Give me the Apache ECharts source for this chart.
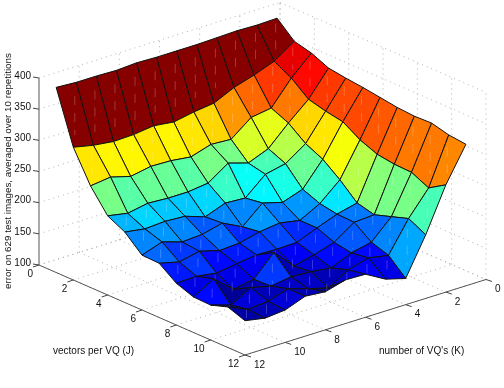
<!DOCTYPE html>
<html>
<head>
    <meta charset="UTF-8">
    <title>error surface</title>
    <script src="https://cdn.jsdelivr.net/npm/echarts/dist/echarts.min.js"></script>
    <style>
        html, body { margin: 0; padding: 0; background: #fff; }
        #chart { width: 504px; height: 388px; }
    </style>
</head>
<body>
<div id="chart"></div>
<script>
    // K values for each column of the rows below
    const kValues = [12, 11, 10, 9, 8, 7, 6, 5, 4, 3, 2, 1];
    const jValues = [1, 2, 3, 4, 5, 6, 7, 8, 9, 10, 11, 12];

    // error, one row per J
    const errJ1 = [397, 395, 395, 394, 396, 395, 395, 395, 396, 397, 396, 397];
    const errJ2 = [313, 306, 302, 303, 307, 303, 309, 313, 328, 338, 350, 372];
    const errJ3 = [263, 267, 258, 264, 263, 259, 269, 267, 292, 297, 335, 365];
    const errJ4 = [227, 221, 227, 225, 225, 229, 251, 241, 254, 285, 313, 353];
    const errJ5 = [213, 208, 210, 208, 197, 209, 207, 235, 242, 264, 306, 349];
    const errJ6 = [188, 199, 189, 191, 199, 183, 211, 202, 213, 251, 301, 346];
    const errJ7 = [187, 179, 186, 177, 179, 187, 191, 185, 202, 230, 284, 342];
    const errJ8 = [167, 168, 163, 168, 172, 171, 172, 185, 197, 205, 273, 338];
    const errJ9 = [157, 176, 149, 155, 188, 156, 164, 174, 196, 198, 269, 336];
    const errJ10 = [156, 146, 164, 156, 161, 159, 155, 169, 176, 207, 268, 337];
    const errJ11 = [165, 151, 154, 164, 154, 145, 164, 173, 167, 216, 255, 330];
    const errJ12 = [155, 149, 152, 164, 161, 170, 169, 151, 142, 202, 272, 327];
    const errorRows = [errJ1, errJ2, errJ3, errJ4, errJ5, errJ6, errJ7, errJ8, errJ9, errJ10, errJ11, errJ12];

    const jTicks = [0, 2, 4, 6, 8, 10, 12];
    const kTicks = [0, 2, 4, 6, 8, 10, 12];
    const zTicks = [100, 150, 200, 250, 300, 350, 400];

    const xTitle = "vectors per VQ (J)";
    const yTitle = "number of VQ's (K)";
    const zTitle = "error on 629 test images, averaged over 10 repetitions";

    // orthographic view of the 3d box, in units of the hidden flat axes
    function project(j, k, z) {
        return [
            39 + 206 * j / 12 + 241 * (12 - k) / 12,
            265 + 90 * j / 12 - 75.5 * (12 - k) / 12 - (z - 100) * 187 / 300
        ];
    }

    const zAll = errorRows.flat();
    const zMin = Math.min(...zAll);
    const zMax = Math.max(...zAll);

    // matlab jet, 64 levels
    function jet(z) {
        const level = Math.min(63, Math.floor((z - zMin) / (zMax - zMin) * 64));
        const t = (level + 0.5) / 64;
        const ch = v => Math.round(255 * Math.max(0, Math.min(1, v)));
        return `rgb(${ch(Math.min(4 * t - 1.5, -4 * t + 4.5))},${ch(Math.min(4 * t - 0.5, -4 * t + 3.5))},${ch(Math.min(4 * t + 0.5, -4 * t + 2.5))})`;
    }

    // dotted lines on the two back walls and the floor
    const gridLines = [];
    jTicks.forEach(j => {
        gridLines.push([j, 12, 100, j, 0, 100]);
        gridLines.push([j, 0, 100, j, 0, 400]);
    });
    kTicks.forEach(k => {
        gridLines.push([0, k, 100, 12, k, 100]);
        if (k !== 12) gridLines.push([0, k, 100, 0, k, 400]);
    });
    zTicks.forEach(z => {
        gridLines.push([0, 12, z, 0, 0, z]);
        gridLines.push([0, 0, z, 12, 0, z]);
    });

    // faces back to front so nearer ones cover farther ones
    const cells = [];
    for (let r = 0; r < jValues.length - 1; r++) {
        for (let c = kValues.length - 2; c >= 0; c--) {
            cells.push([r, c]);
        }
    }

    const font = '10px "Liberation Sans", Arial, sans-serif';

    function renderGridLine(params, api) {
        const a = api.coord(project(api.value(0), api.value(1), api.value(2)));
        const b = api.coord(project(api.value(3), api.value(4), api.value(5)));
        return {
            type: 'line',
            shape: { x1: a[0], y1: a[1], x2: b[0], y2: b[1] },
            style: { stroke: '#b0b0b0', lineWidth: 1, lineDash: [1, 4] },
            silent: true
        };
    }

    function renderCell(params, api) {
        const r = api.value(0);
        const c = api.value(1);
        const corners = [[r, c], [r, c + 1], [r + 1, c + 1], [r + 1, c]];
        const pts = corners.map(p => api.coord(project(jValues[p[0]], kValues[p[1]], errorRows[p[0]][p[1]])));
        const xs = pts.map(p => p[0]);
        const ys = pts.map(p => p[1]);
        const cx = (xs[0] + xs[1] + xs[2] + xs[3]) / 4;
        const cy = (ys[0] + ys[1] + ys[2] + ys[3]) / 4;
        const half = (Math.max(...ys) - Math.min(...ys)) * 0.3;
        return {
            type: 'group',
            silent: true,
            children: [
                {
                    type: 'polygon',
                    shape: { points: pts },
                    // flat shading: colour comes from the lowest J, lowest K corner
                    style: { fill: jet(errorRows[r][c + 1]), stroke: '#111', lineWidth: 1, lineJoin: 'round' }
                },
                {
                    type: 'line',
                    shape: { x1: cx, y1: cy - half, x2: cx, y2: cy + half },
                    style: { stroke: 'rgba(255,255,255,0.22)', lineWidth: 1, lineDash: [9, 8] }
                }
            ]
        };
    }

    function tickGroup(api, from, dx, dy, label, lx, ly, align) {
        const a = api.coord(from);
        return {
            type: 'group',
            silent: true,
            children: [
                {
                    type: 'line',
                    shape: { x1: a[0], y1: a[1], x2: a[0] + dx, y2: a[1] + dy },
                    style: { stroke: '#444', lineWidth: 1 }
                },
                {
                    type: 'text',
                    style: {
                        text: label, x: a[0] + lx, y: a[1] + ly, align: align,
                        verticalAlign: 'middle', fill: '#111', font: font
                    }
                }
            ]
        };
    }

    const option = {
        animation: false,
        grid: { left: 0, right: 0, top: 0, bottom: 0 },
        xAxis: { type: 'value', min: 0, max: 504, show: false },
        yAxis: { type: 'value', min: 0, max: 388, inverse: true, show: false },
        tooltip: { show: false },
        graphic: [
            { type: 'text', silent: true, left: 53, top: 346, style: { text: xTitle, font: font, fill: '#111' } },
            { type: 'text', silent: true, left: 379, top: 346, style: { text: yTitle, font: font, fill: '#111' } },
            {
                type: 'text', silent: true, x: 8, y: 171, rotation: Math.PI / 2,
                style: { text: zTitle, font: '9.8px "Liberation Sans", Arial, sans-serif', fill: '#111', align: 'center', verticalAlign: 'middle' }
            }
        ],
        series: [
            { type: 'custom', clip: false, data: gridLines, renderItem: renderGridLine, z: 1 },
            {
                // solid axis lines
                type: 'custom', clip: false, z: 2,
                data: [[0, 12, 100, 0, 12, 400, 0], [0, 12, 100, 12, 12, 100, 1], [12, 12, 100, 12, 0, 100, 1]],
                renderItem: (params, api) => {
                    const a = api.coord(project(api.value(0), api.value(1), api.value(2)));
                    const b = api.coord(project(api.value(3), api.value(4), api.value(5)));
                    const dark = api.value(6) === 1;
                    return {
                        type: 'line', silent: true,
                        shape: { x1: a[0], y1: a[1], x2: b[0], y2: b[1] },
                        style: { stroke: dark ? '#555' : '#aaa', lineWidth: dark ? 1 : 2 }
                    };
                }
            },
            {
                type: 'custom', clip: false, z: 2, data: jTicks.map(v => [v]),
                renderItem: (params, api) => {
                    const j = api.value(0);
                    return tickGroup(api, project(j, 12, 100), -6, 2, String(j), -6, 9, 'right');
                }
            },
            {
                type: 'custom', clip: false, z: 2, data: kTicks.map(v => [v]),
                renderItem: (params, api) => {
                    const k = api.value(0);
                    return tickGroup(api, project(12, k, 100), 6, 2, String(k), 9, 10, 'left');
                }
            },
            {
                type: 'custom', clip: false, z: 2, data: zTicks.map(v => [v]),
                renderItem: (params, api) => {
                    const z = api.value(0);
                    return tickGroup(api, project(0, 12, z), -6, -1, String(z), -8, -2, 'right');
                }
            },
            { type: 'custom', clip: false, z: 3, data: cells, renderItem: renderCell }
        ]
    };

    const chart = echarts.init(document.getElementById('chart'), null, { renderer: 'canvas' });
    chart.setOption(option);
</script>
</body>
</html>
